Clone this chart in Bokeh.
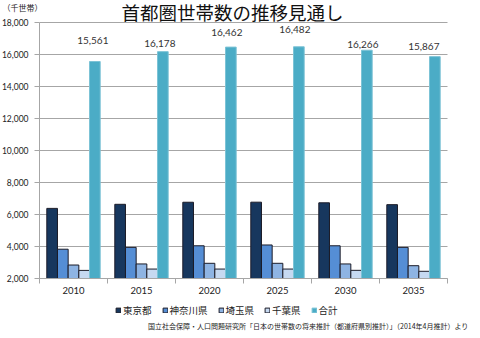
from bokeh.plotting import figure
from bokeh.models import (ColumnDataSource, FixedTicker, Label, Legend, LegendItem,
                          NumeralTickFormatter, Range1d, LabelSet, Grid)
from bokeh.embed import file_html
from bokeh.resources import INLINE
from bokeh.core.properties import value

# ---------------- data ----------------
years = ["2010", "2015", "2020", "2025", "2030", "2035"]
series_names = ["東京都", "神奈川県", "埼玉県", "千葉県", "合計"]
tokyo = [6382, 6637, 6766, 6770, 6731, 6616]
kanagawa = [3831, 3945, 4045, 4095, 4045, 3945]
saitama = [2842, 2910, 2950, 2950, 2910, 2800]
chiba = [2506, 2590, 2590, 2590, 2510, 2450]
total = [15561, 16178, 16462, 16482, 16266, 15867]
y_ticks = [2000, 4000, 6000, 8000, 10000, 12000, 14000, 16000, 18000]

title_text = "首都圏世帯数の推移見通し"
unit_text = "（千世帯）"
source_text = "国立社会保障・人口問題研究所「日本の世帯数の将来推計（都道府県別推計）」（2014年4月推計）より"

# ---------------- layout / styles ----------------
W, H = 480, 338
plot_left, plot_right, plot_top, plot_bottom = 39, 447, 22, 278   # canvas px of plot area
fills = ["#17375E", "#558ED5", "#8EB4E3", "#C6D9F1", "#4BACC6"]
lines = ["#1C1C28", "#1C1C28", "#1C1C28", "#1C1C28", "#7CC3D6"]
label_dx = [-2, -3, -4, -4, -4, -11]     # px shift of total labels
label_dy = [21, 8, 15, 17, 6, 10]        # px lift of total labels above bar top
JP = "Noto Sans CJK JP"
NUM = "Lato"
grid_c = "#A6A6A6"

y0, y1 = y_ticks[0], y_ticks[-1]
n = len(years)
bar_w = 0.157

# ranges chosen so that the frame covers the whole canvas and the plot area sits at the pixels above
xpx = (plot_right - plot_left) / n
ypx = (plot_bottom - plot_top) / (y1 - y0)
x_start = -plot_left / xpx
x_end = n + (W - plot_right) / xpx
y_start = y0 - (H - plot_bottom) / ypx
y_end = y1 + plot_top / ypx

p = figure(width=W, height=H, output_backend="svg", toolbar_location=None,
           x_range=Range1d(x_start, x_end), y_range=Range1d(y_start, y_end),
           min_border=0)
p.outline_line_color = None
p.background_fill_color = "white"
p.border_fill_color = "white"

series = [tokyo, kanagawa, saitama, chiba, total]
renderers = []
for k, vals in enumerate(series):
    xs = [i + 0.5 + (k - 2) * bar_w for i in range(n)]
    src = ColumnDataSource(dict(x=xs, top=vals))
    r = p.vbar(x="x", top="top", bottom=y0, width=bar_w, source=src,
               fill_color=fills[k], line_color=lines[k], line_width=1)
    renderers.append(r)

# total labels
lab_src = ColumnDataSource(dict(
    x=[i + 0.5 + 2 * bar_w for i in range(n)], y=total,
    text=[f"{v:,}" for v in total], dx=label_dx, dy=label_dy))
p.add_layout(LabelSet(x="x", y="y", text="text", source=lab_src, x_offset="dx", y_offset="dy",
                      text_align="center", text_baseline="middle", text_font=value(NUM),
                      text_font_size="10px", text_color="#333333"))

# axes
p.yaxis.fixed_location = 0
p.yaxis.bounds = (y0, y1)
p.yaxis.ticker = FixedTicker(ticks=y_ticks)
p.yaxis.formatter = NumeralTickFormatter(format="0,0")
p.yaxis.axis_line_color = grid_c
p.yaxis.major_tick_line_color = grid_c
p.yaxis.major_tick_out = 5
p.yaxis.major_tick_in = 0
p.yaxis.minor_tick_line_color = None
p.yaxis.major_label_standoff = 6
p.yaxis.major_label_text_font = NUM
p.yaxis.major_label_text_font_size = "8.5px"
p.yaxis.major_label_text_color = "#222222"

p.xaxis.fixed_location = y0
p.xaxis.bounds = (0, n)
p.xaxis.ticker = FixedTicker(ticks=[i + 0.5 for i in range(n)], minor_ticks=list(range(n + 1)))
p.xaxis.major_label_overrides = {i + 0.5: y for i, y in enumerate(years)}
p.xaxis.axis_line_color = grid_c
p.xaxis.major_tick_line_color = None
p.xaxis.major_tick_out = 0
p.xaxis.major_tick_in = 0
p.xaxis.minor_tick_line_color = grid_c
p.xaxis.minor_tick_out = 5
p.xaxis.minor_tick_in = 0
p.xaxis.major_label_standoff = 3
p.xaxis.major_label_text_font = NUM
p.xaxis.major_label_text_font_size = "9.5px"
p.xaxis.major_label_text_color = "#222222"

p.xgrid.grid_line_color = None
if "cross_bounds" in Grid.properties():
    p.ygrid.cross_bounds = (0, n)
    p.ygrid.grid_line_color = grid_c
else:
    p.ygrid.grid_line_color = None
    p.segment(x0=0, x1=n, y0=y_ticks, y1=y_ticks, line_color=grid_c, level="underlay")

# legend
legend = Legend(items=[LegendItem(label=nm, renderers=[r]) for nm, r in zip(series_names, renderers)],
                orientation="horizontal", location=(115, 21),
                glyph_width=6, glyph_height=6, label_standoff=2, spacing=10,
                padding=0, margin=0, border_line_color=None, background_fill_alpha=0,
                label_text_font=JP, label_text_font_size="9.5px", label_text_color="#222222",
                label_height=10)
p.add_layout(legend)

# texts (screen units: from bottom-left of canvas)
p.add_layout(Label(x=232, y=H - 11.5, x_units="screen", y_units="screen", text=title_text,
                   text_align="center", text_baseline="middle", text_font=JP,
                   text_font_size="18.5px", text_color="#111111"))
p.add_layout(Label(x=2, y=H - 7, x_units="screen", y_units="screen", text=unit_text,
                   text_align="left", text_baseline="middle", text_font=JP,
                   text_font_size="8px", text_color="#222222"))
p.add_layout(Label(x=468, y=H - 325, x_units="screen", y_units="screen", text=source_text,
                   text_align="right", text_baseline="middle", text_font=JP,
                   text_font_size="7px", text_color="#222222"))

open("out.html", "w").write(file_html(p, INLINE))
